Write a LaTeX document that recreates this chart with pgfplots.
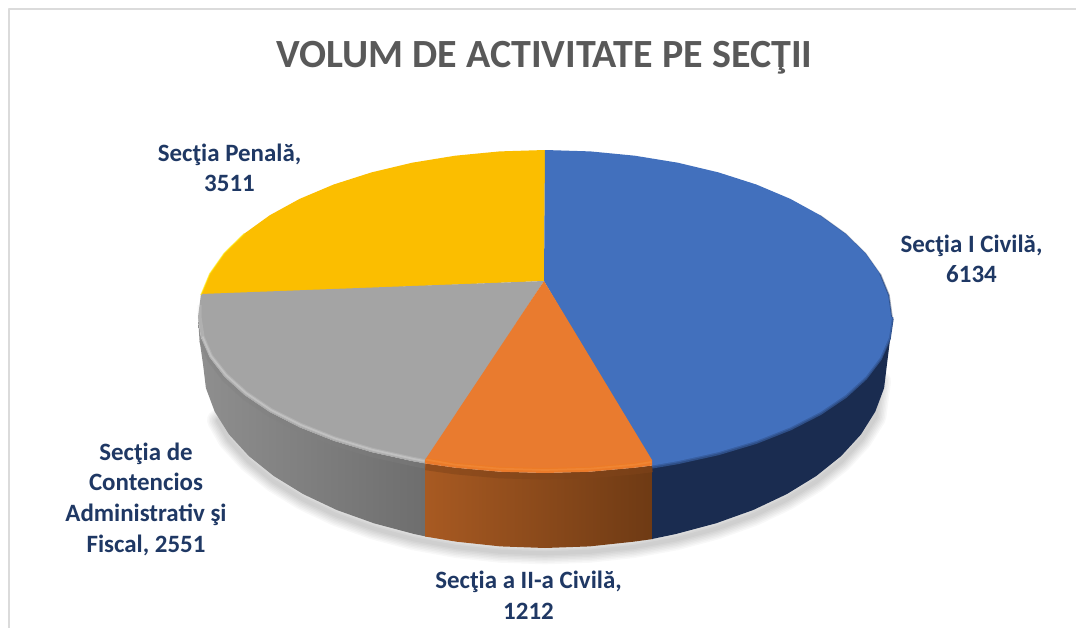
\documentclass[border=0pt]{standalone}
\usepackage{pgfplots}
\pgfplotsset{compat=1.18}
\usepackage{fontspec}
\setmainfont{Carlito}
\definecolor{navy}{HTML}{1F3864}
\definecolor{ttl}{HTML}{595959}
\definecolor{bl}{HTML}{4270BD}
\definecolor{bldark}{HTML}{1A2C50}
\definecolor{or}{HTML}{E97B2F}
\definecolor{gr}{HTML}{A4A4A4}
\definecolor{ye}{HTML}{FBBE00}
\begin{document}
\begin{tikzpicture}[line join=round]
\begin{axis}[
  scale only axis, width=807pt, height=471pt,
  xmin=0, xmax=1076, ymin=0, ymax=628, y dir=reverse, hide axis,
  clip=true]
% page
\addplot[fill=white,draw=none] coordinates {(0,0)(1076,0)(1076,628)(0,628)} --cycle;
% frame
\addplot[draw=black!14,line width=1.3pt] coordinates {(9,628)(9,9)(1076,9)};
% shadow below the pie
\foreach \w in {22,19,16,13,10,7,4}{
\edef\tmp{\noexpand\addplot[draw=black,opacity=0.028,line cap=round,line width=\w*0.75pt,yshift=-4pt]
 coordinates {(880,376)(875.3,411.6)(861,434.4)(841.2,456)(816.3,476)(786.8,494.1)(753.2,510)(716,523.3)(675.9,534)(633.5,541.7)(589.6,546.4)(545,548)(500.4,546.4)(456.5,541.7)(414.1,534)(374,523.3)(336.8,510)(303.2,494.1)(273.7,476)(248.8,456)(229,434.4)(218,415)};}
\tmp
}
% side walls
\addplot[left color=black!44,middle color=black!48,right color=black!57,draw=none]
 coordinates {(198,317)(201,337.4)(209.8,357.4)(224.4,376.7)(244.5,395)(269.7,412)(299.6,427.3)(333.7,440.8)(371.5,452.1)(412.2,461.1)(426,463.5)(426,536.5)(414.1,534)(374,523.3)(336.8,510)(303.2,494.1)(273.7,476)(248.8,456)(229,434.4)(214.7,411.6)(205.9,388)(203,364)(199.5,340)} --cycle;
\addplot[left color={rgb,255:red,168;green,90;blue,34},middle color={rgb,255:red,138;green,74;blue,28},right color={rgb,255:red,110;green,58;blue,20},draw=none]
 coordinates {(425,463.5)(455.2,467.7)(499.7,471.7)(545,473)(590.3,471.7)(634.8,467.7)(653,465.5)(653,539)(633.5,541.7)(589.6,546.4)(545,548)(500.4,546.4)(456.5,541.7)(425,536.5)} --cycle;
\addplot[fill=bldark,draw=none]
 coordinates {(652,465.5)(677.8,461.1)(718.5,452.1)(756.3,440.8)(790.4,427.3)(820.3,412)(845.5,395)(865.6,376.7)(880.2,357.4)(889,337.4)(892,317)(890,340)(887,364)(884.1,388)(875.3,411.6)(861,434.4)(841.2,456)(816.3,476)(786.8,494.1)(753.2,510)(716,523.3)(675.9,534)(652,539)} --cycle;
% transition of the rim
\addplot[draw=bl!50!bldark,line width=2.6pt,yshift=-1pt]
 coordinates {(652,465.5)(677.8,461.1)(718.5,452.1)(756.3,440.8)(790.4,427.3)(820.3,412)(845.5,395)(865.6,376.7)(880.2,357.4)(889,337.4)(892,317)};
\addplot[draw=bl!75!bldark,line width=2pt]
 coordinates {(652,465.5)(677.8,461.1)(718.5,452.1)(756.3,440.8)(790.4,427.3)(820.3,412)(845.5,395)(865.6,376.7)(880.2,357.4)(889,337.4)(892,317)};
\addplot[draw=or!55!black,line width=5pt,yshift=-2.5pt,opacity=.55]
 coordinates {(425.5,463.5)(455.2,467.7)(499.7,471.7)(545,473)(590.3,471.7)(634.8,467.7)(652.5,465.5)};
\addplot[draw=black!50,line width=3.5pt,yshift=-2pt,opacity=.35]
 coordinates {(201,337.4)(209.8,357.4)(224.4,376.7)(244.5,395)(269.7,412)(299.6,427.3)(333.7,440.8)(371.5,452.1)(412.2,461.1)(424.5,463.5)};
% top face
\addplot[fill=ye,draw=none]
 coordinates {(544,281)(545,150)(499.7,151.4)(455.2,155.7)(412.2,162.7)(371.5,172.4)(333.7,184.5)(299.6,198.9)(269.7,215.3)(244.5,233.5)(224.4,253.1)(209.8,273.8)(201,295)} --cycle;
\addplot[fill=gr,draw=none]
 coordinates {(544,281)(201,294)(198,317)(201,337.4)(209.8,357.4)(224.4,376.7)(244.5,395)(269.7,412)(299.6,427.3)(333.7,440.8)(371.5,452.1)(412.2,461.1)(425,463.5)} --cycle;
\addplot[fill=bl,draw=none]
 coordinates {(544,281)(545,150)(590.3,151.4)(634.8,155.7)(677.8,162.7)(718.5,172.4)(756.3,184.5)(790.4,198.9)(820.3,215.3)(845.5,233.5)(865.6,253.1)(880.2,273.8)(889,295.2)(892,317)(889,337.4)(880.2,357.4)(865.6,376.7)(845.5,395)(820.3,412)(790.4,427.3)(756.3,440.8)(718.5,452.1)(677.8,461.1)(652,465.5)} --cycle;
\addplot[fill=or,draw=none]
 coordinates {(544,281)(425,460)(425,463.5)(455.2,467.7)(499.7,471.7)(545,473)(590.3,471.7)(634.8,467.7)(652,465.5)(652,460)} --cycle;
% highlights of the rim
\addplot[draw=black!14,line width=3pt,opacity=.22]
 coordinates {(199.5,305)(199.5,317)(202.5,336.5)(211,356)(226,375)(246,393)(271,410)(301,425)(335,438.5)(372.5,449.8)(413,458.8)(424.5,461)};
\addplot[draw=black!16,line width=1.3pt,opacity=.45]
 coordinates {(202.5,336.5)(211,356)(226,375)(246,393)(271,410)(301,425)(335,438.5)(372.5,449.8)(413,458.8)(424.5,461)};
\addplot[draw=orange!50!or,line width=3pt,opacity=.3]
 coordinates {(425.5,459.5)(455.2,464.7)(499.7,468.7)(545,470)(590.3,468.7)(634.8,464.7)(651.5,462)};
\addplot[draw=orange!35!or!85!white,line width=1.3pt,opacity=.5]
 coordinates {(425.5,459.5)(455.2,464.7)(499.7,468.7)(545,470)(590.3,468.7)(634.8,464.7)(651.5,462)};
\addplot[draw=bldark,line width=.8pt,opacity=.2]
 coordinates {(820.3,215.3)(845.5,233.5)(865.6,253.1)(880.2,273.8)};
\addplot[draw=bldark,line width=1.2pt,opacity=.4]
 coordinates {(880.2,273.8)(889,295.2)(892,317)};
\addplot[draw=yellow!80!ye,line width=1pt,opacity=.6]
 coordinates {(244.5,233.5)(224.4,253.1)(209.8,273.8)(201,295)};
% texts
\node[text=ttl,font=\fontsize{30}{32}\selectfont\bfseries] at (axis cs:544.5,58) {VOLUM DE ACTIVITATE PE SECŢII};
\node[text=navy,align=center,font=\fontsize{18.7}{23}\selectfont\bfseries] at (axis cs:229.5,168) {Secţia Penală,\\3511};
\node[text=navy,align=center,font=\fontsize{18.7}{23}\selectfont\bfseries] at (axis cs:971.5,259) {Secţia I Civilă,\\6134};
\node[text=navy,align=center,font=\fontsize{18.7}{23}\selectfont\bfseries] at (axis cs:528.5,595) {Secţia a II-a Civilă,\\1212};
\node[text=navy,align=center,font=\fontsize{18.7}{23}\selectfont\bfseries] at (axis cs:146,499) {Secţia de\\Contencios\\Administrativ şi\\Fiscal, 2551};
\end{axis}
\end{tikzpicture}
\end{document}
